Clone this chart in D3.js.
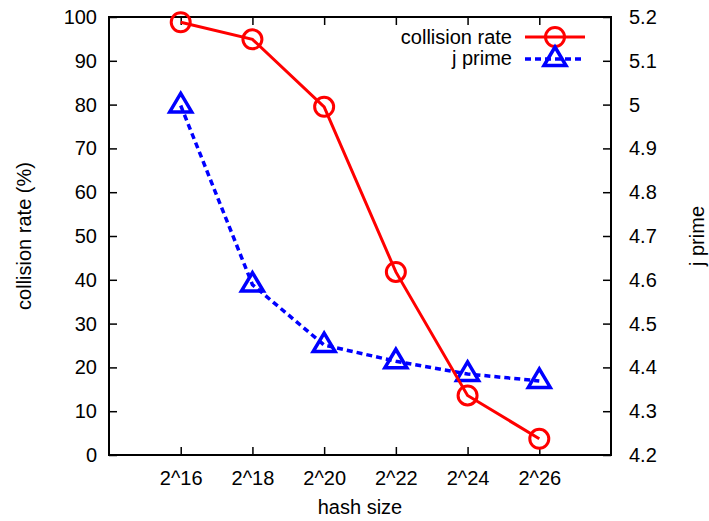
<!DOCTYPE html>
<html>
<head>
<meta charset="utf-8">
<script src="https://cdn.jsdelivr.net/npm/d3@7"></script>
<style>
  body { margin: 0; background: #fff; }
  text { font-family: "Liberation Sans", Arial, sans-serif; font-size: 20px; fill: #000; }
</style>
</head>
<body>
<svg id="chart" width="709" height="521"></svg>
<script>
// Data
const exponents = [16, 18, 20, 22, 24, 26];
const tickLabels = ["2^16", "2^18", "2^20", "2^22", "2^24", "2^26"];
const collisionRate = [98.8, 94.9, 79.5, 41.8, 13.6, 3.7];
const jPrime = [4.998, 4.589, 4.451, 4.414, 4.385, 4.369];

const width = 709, height = 521;
const margin = { top: 17, right: 98, bottom: 66, left: 109 };
const innerW = width - margin.left - margin.right;
const innerH = height - margin.top - margin.bottom;

const svg = d3.select("#chart");
const g = svg.append("g").attr("transform", `translate(${margin.left},${margin.top})`);

// Scales
const x = d3.scaleLinear().domain([14, 28]).range([0, innerW]);
const yLeft = d3.scaleLinear().domain([0, 100]).range([innerH, 0]);
const yRight = d3.scaleLinear().domain([4.2, 5.2]).range([innerH, 0]);

const tickLen = 8;

// Axes (gnuplot style: ticks inward)
const xAxis = d3.axisBottom(x).tickValues(exponents)
    .tickFormat((d, i) => tickLabels[i]).tickSize(-tickLen).tickPadding(16);
const xAxisTop = d3.axisTop(x).tickValues(exponents).tickFormat("").tickSize(-tickLen);
const yAxisLeft = d3.axisLeft(yLeft).tickValues(d3.range(0, 101, 10))
    .tickSize(-tickLen).tickPadding(12);
const yAxisRight = d3.axisRight(yRight).tickValues(d3.range(4.2, 5.21, 0.1))
    .tickFormat(d => d3.format("~g")(+d.toFixed(1))).tickSize(-tickLen).tickPadding(18);

function styleAxis(sel) {
    sel.select(".domain").remove();
    sel.selectAll("line").attr("stroke", "#000").attr("stroke-width", 1.5);
    sel.selectAll("text").style("font-size", "20px")
        .style("font-family", '"Liberation Sans", Arial, sans-serif').attr("fill", "#000");
}

g.append("g").attr("transform", `translate(0,${innerH})`).call(xAxis).call(styleAxis);
g.append("g").call(xAxisTop).call(styleAxis);
g.append("g").call(yAxisLeft).call(styleAxis);
g.append("g").attr("transform", `translate(${innerW},0)`).call(yAxisRight).call(styleAxis);

// Frame
g.append("rect").attr("width", innerW).attr("height", innerH)
    .attr("fill", "none").attr("stroke", "#000").attr("stroke-width", 2);

// Axis titles
svg.append("text").attr("x", margin.left + innerW / 2).attr("y", 514)
    .attr("text-anchor", "middle").text("hash size");
svg.append("text").attr("transform", `translate(31,${margin.top + innerH / 2}) rotate(-90)`)
    .attr("text-anchor", "middle").text("collision rate (%)");
svg.append("text").attr("transform", `translate(704,${margin.top + innerH / 2}) rotate(-90)`)
    .attr("text-anchor", "middle").text("j prime");

const red = "#ff0000", blue = "#0000ff";

// Triangle path around a point (gnuplot puts the point below the centre)
function triangle(cx, cy) {
    return `M${cx},${cy - 12}L${cx + 11},${cy + 6.5}L${cx - 11},${cy + 6.5}Z`;
}

// j prime series (dashed blue)
const jLine = d3.line().x((d, i) => x(exponents[i])).y(d => yRight(d));
g.append("path").datum(jPrime).attr("d", jLine)
    .attr("fill", "none").attr("stroke", blue).attr("stroke-width", 3.5)
    .attr("stroke-dasharray", "6,4");
g.selectAll(".tri").data(jPrime).enter().append("path")
    .attr("d", (d, i) => triangle(x(exponents[i]), yRight(d)))
    .attr("fill", "none").attr("stroke", blue).attr("stroke-width", 3.5)
    .attr("stroke-linejoin", "miter");

// collision rate series (solid red)
const cLine = d3.line().x((d, i) => x(exponents[i])).y(d => yLeft(d));
g.append("path").datum(collisionRate).attr("d", cLine)
    .attr("fill", "none").attr("stroke", red).attr("stroke-width", 3);
g.selectAll(".circ").data(collisionRate).enter().append("circle")
    .attr("cx", (d, i) => x(exponents[i])).attr("cy", d => yLeft(d)).attr("r", 9.5)
    .attr("fill", "none").attr("stroke", red).attr("stroke-width", 3);

// Legend
const legend = svg.append("g");
const lx1 = 525, lx2 = 585, lxm = 555;
legend.append("text").attr("x", 512).attr("y", 44).attr("text-anchor", "end").text("collision rate");
legend.append("line").attr("x1", lx1).attr("x2", lx2).attr("y1", 37).attr("y2", 37)
    .attr("stroke", red).attr("stroke-width", 3);
legend.append("circle").attr("cx", lxm).attr("cy", 37).attr("r", 9.5)
    .attr("fill", "none").attr("stroke", red).attr("stroke-width", 3);
legend.append("text").attr("x", 512).attr("y", 65).attr("text-anchor", "end").text("j prime");
legend.append("line").attr("x1", lx1).attr("x2", lx2).attr("y1", 59).attr("y2", 59)
    .attr("stroke", blue).attr("stroke-width", 3.5).attr("stroke-dasharray", "6,4");
legend.append("path").attr("d", triangle(lxm, 59))
    .attr("fill", "none").attr("stroke", blue).attr("stroke-width", 3.5);
</script>
</body>
</html>
